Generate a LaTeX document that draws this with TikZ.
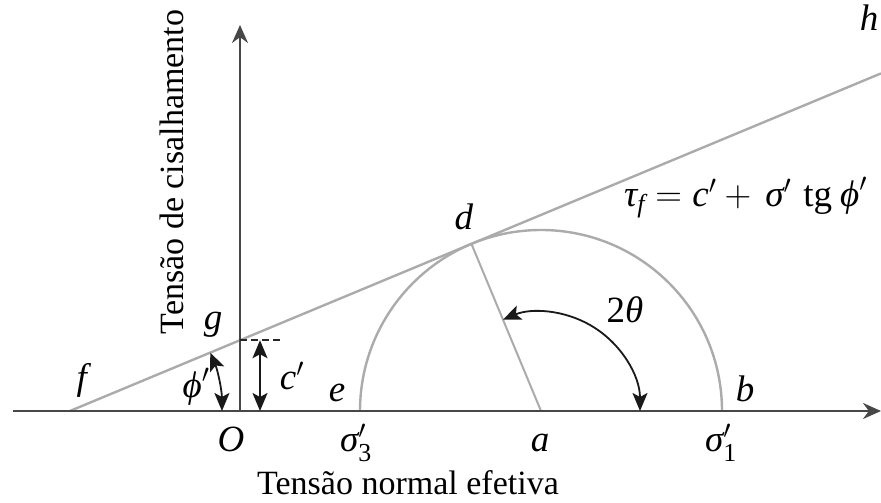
\RequirePackage{fix-cm}
\documentclass[tikz,border=0pt]{standalone}
\usepackage{amsmath}
\usepackage{fontspec}
\setmainfont{Liberation Serif}
\usetikzlibrary{arrows.meta,calc}

\begin{document}
\begin{tikzpicture}[x=1pt,y=1pt,
  axis/.style={draw=black!72, line width=2.2pt},
  envelope/.style={draw=black!33, line width=2.4pt},
  dimarrow/.style={black!90, line width=1.8pt, {Stealth[length=18pt,width=15pt,inset=4pt]}-{Stealth[length=18pt,width=15pt,inset=4pt]}},
  lbl/.style={anchor=base, font=\fontsize{37}{42}\selectfont},
  ttl/.style={anchor=base, font=\fontsize{34}{40}\selectfont}]
  \useasboundingbox (0,0) rectangle (881,503);
  % Mohr circle and envelope data
  \pgfmathsetmacro{\R}{181}
  \pgfmathsetmacro{\ang}{22.6}
  \pgfmathsetmacro{\fx}{541-\R/sin(\ang)}
  \pgfmathsetmacro{\gy}{92+tan(\ang)*(240-\fx)}
  \pgfmathsetmacro{\hy}{92+tan(\ang)*(881-\fx)}
  \coordinate (O) at (240,92);
  \coordinate (a) at (541,92);
  \coordinate (e) at ($(a)+(-\R,0)$);
  \coordinate (b) at ($(a)+(\R,0)$);
  \coordinate (f) at (\fx,92);
  \coordinate (g) at (240,\gy);
  \coordinate (h) at (881,\hy);
  \coordinate (d) at ($(a)+(90+\ang:\R)$);
  \coordinate (xstart) at (13,92);
  \coordinate (xend) at (881,92);
  \coordinate (ytop) at (240,478);

  % circle, envelope and radius a-d
  \draw[envelope] (b) arc[start angle=0, end angle=180, radius=\R];
  \draw[envelope] (f) -- (h);
  \draw[envelope, line width=2pt] (a) -- (d);

  % axes
  \draw[axis, -{Stealth[length=18pt,width=16pt]}] (xstart) -- (xend);
  \draw[axis, -{Stealth[length=18pt,width=16pt]}] (O) -- (ytop);

  % cohesion intercept c'
  \coordinate (cbot) at (260,92);
  \coordinate (ctop) at (260,\gy);
  \coordinate (gdash) at (283,\gy);
  \draw[dimarrow] (cbot) -- (ctop);
  \draw[black!85, dash pattern=on 7pt off 4pt, line width=1.6pt] (g) -- (gdash);

  % friction angle phi'
  \coordinate (phis) at ($(f)+(152,0)$);
  \draw[dimarrow] (phis) arc[start angle=0, end angle=\ang, radius=152];

  % angle 2theta
  \coordinate (ths) at ($(a)+(99,0)$);
  \draw[dimarrow] (ths) arc[start angle=0, end angle=90+\ang, radius=99];

  % point labels
  \node[lbl] (lf) at (84,113) {\textit{f}};
  \node[lbl] (lg) at (213,173) {\textit{g}};
  \node[lbl] (lO) at (231,51) {\textit{O}};
  \node[lbl] (le) at (337,101) {\textit{e}};
  \node[lbl] (lb) at (745,101) {\textit{b}};
  \node[lbl] (ld) at (464,273) {\textit{d}};
  \node[lbl] (lh) at (869,472) {\textit{h}};
  \node[lbl] (la) at (540,51) {\textit{a}};
  \node[lbl] (ls3) at (356,51) {$\textit{σ}'_{\text{3}}$};
  \node[lbl] (ls1) at (721,51) {$\textit{σ}'_{\text{1}}$};
  \node[lbl] (lphi) at (196,105) {$\textit{ϕ}'$};
  \node[lbl] (lc) at (292,113) {$\textit{c}'$};
  \node[lbl] (lth) at (625,180) {2\textit{θ}};
  \node[lbl, anchor=base west, inner sep=0pt] (ltau) at (624,296)
    {$\textit{τ}_{\textit{f}} = \textit{c}' + \hspace{6pt}\textit{σ}'\hspace{12pt}\text{tg}\hspace{8pt}\textit{ϕ}'$};

  % axis titles
  \node[ttl, rotate=90] (ytitle) at (183,331) {Tensão de cisalhamento};
  \node[ttl] (xtitle) at (408,8) {Tensão normal efetiva};
\end{tikzpicture}
\end{document}
